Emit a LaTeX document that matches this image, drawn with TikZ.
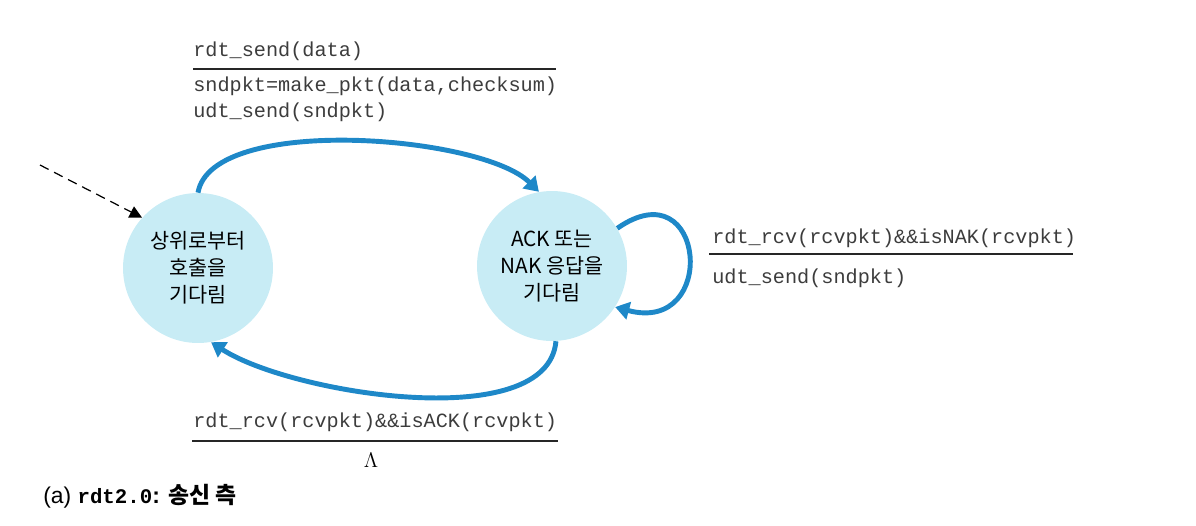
\documentclass[tikz,border=0pt]{standalone}
\usepackage{fontspec}
\setsansfont{Liberation Sans}
\setmonofont{Liberation Mono}
\newfontfamily\krfont{Noto Sans CJK KR}
\usepackage{tikz}
\usetikzlibrary{arrows.meta}
\definecolor{fsmblue}{RGB}{30,136,200}
\definecolor{fsmfill}{RGB}{200,236,245}
\definecolor{lblgray}{RGB}{60,60,60}

\begin{document}
\begin{tikzpicture}[x=0.02cm,y=0.02cm,
    fsmstate/.style={circle,fill=fsmfill,minimum size=3cm,inner sep=0pt,align=center,
      font=\krfont\fontsize{11.8}{15.3}\selectfont},
    trans/.style={draw=fsmblue,line width=2.8pt,-{Triangle[length=8pt,width=10pt]}},
    lbl/.style={anchor=base west,inner sep=0pt,text=lblgray,font=\ttfamily\fontsize{11.5}{13}\selectfont},
    bar/.style={draw=black!85,line width=0.7pt}]
    \useasboundingbox (0,0) rectangle (1196,-525);
    \node[fsmstate] (wait) at (198,-268) {상위로부터\\호출을\\기다림};
    \node[fsmstate] (ack)  at (552,-266) {ACK 또는\\NAK 응답을\\기다림};
    \coordinate (init) at (40,-165);
    \draw[line width=0.7pt,dash pattern=on 5.5pt off 3.5pt,-{Triangle[length=7pt,width=7pt]}] (init) -- (wait.138);
    \draw[trans] (wait.90) to[out=80,in=135,looseness=0.6] (ack.100);
    \draw[trans] (ack.-87) to[out=-95,in=-33,looseness=0.7] (wait.-80);
    \draw[trans] (ack.30) to[out=35,in=-15,looseness=3.5] (ack.-33);
    \node[lbl] (sendev)  at (193,-56)  {rdt\_send(data)};
    \draw[bar] (193,-69) -- (556,-69);
    \node[lbl] (sendact) at (193,-91)  {sndpkt=make\_pkt(data,checksum)};
    \node[lbl] (sendudt) at (193,-117) {udt\_send(sndpkt)};
    \node[lbl] (nakev)   at (712,-243) {rdt\_rcv(rcvpkt)\&\&isNAK(rcvpkt)};
    \draw[bar] (709,-254) -- (1073,-254);
    \node[lbl] (nakact)  at (712,-283) {udt\_send(sndpkt)};
    \node[lbl] (ackev)   at (193,-427) {rdt\_rcv(rcvpkt)\&\&isACK(rcvpkt)};
    \draw[bar] (192,-441) -- (558,-441);
    \node[anchor=base,inner sep=0pt,font=\fontsize{12}{14}\selectfont] (ackact) at (371,-467) {$\Lambda$};
    \node[anchor=base west,inner sep=0pt,font=\sffamily\fontsize{13}{15}\selectfont] (cap) at (43,-503)
      {(a) {\ttfamily\bfseries\fontsize{11.8}{15}\selectfont rdt2.0}\textbf{:} {\krfont\bfseries 송신 측}};
\end{tikzpicture}
\end{document}
